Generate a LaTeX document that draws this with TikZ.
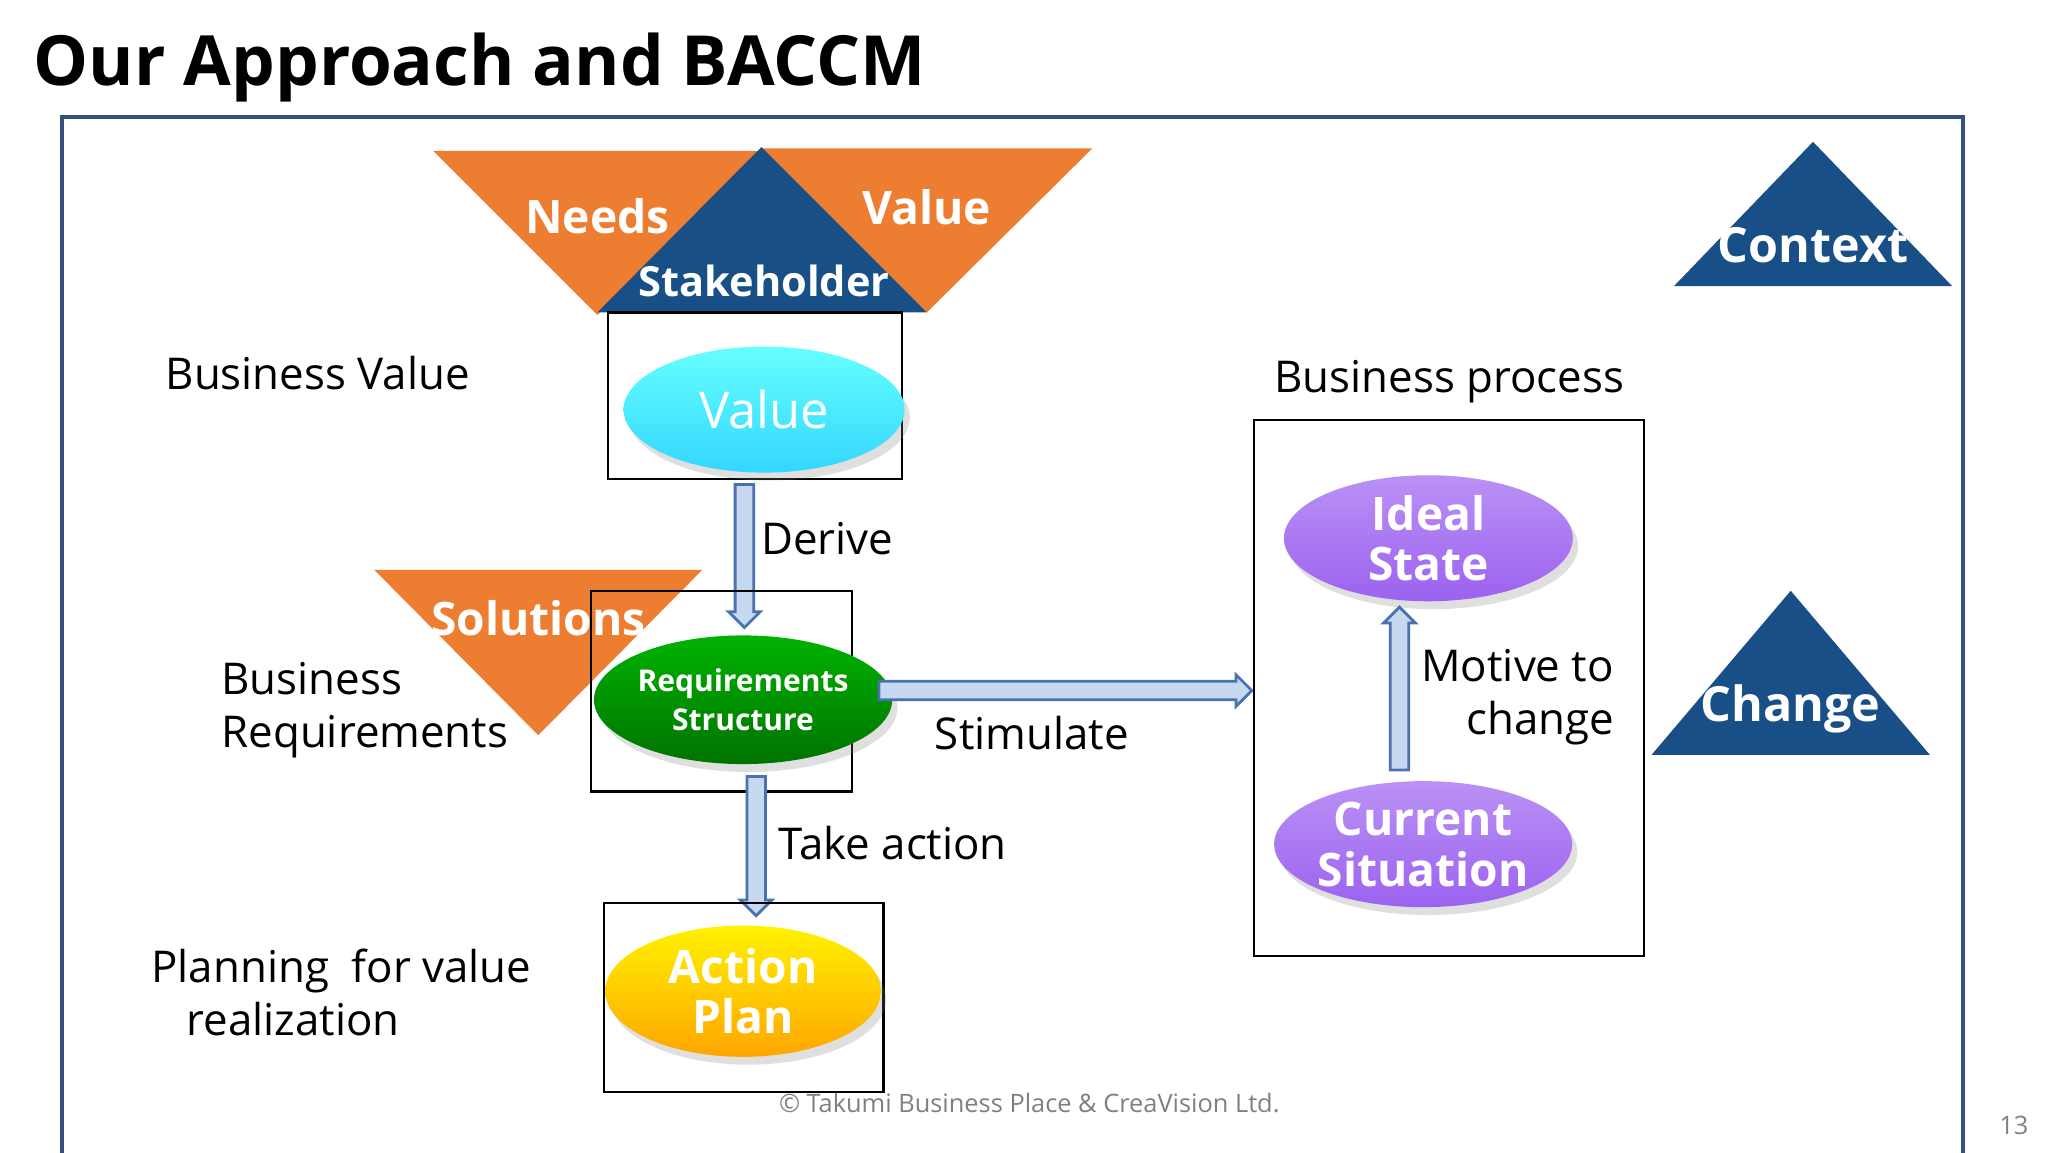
\documentclass[tikz,border=0pt]{standalone}
\usepackage{fontspec}
\setmainfont{Open Sans}
\usetikzlibrary{shapes.geometric,shapes.arrows,shadows}
\definecolor{tri orange}{HTML}{ED7D31}
\definecolor{tri blue}{HTML}{174F86}
\definecolor{arrow fill}{HTML}{C6D9F1}
\definecolor{arrow line}{HTML}{4A72B0}
\definecolor{blob violet}{HTML}{9C62F0}
\tikzstyle{box}=[draw=black,line width=0.5pt]
\tikzstyle{blob}=[ellipse,inner sep=0pt,text=white,font=\bfseries\fontsize{10}{11}\selectfont,align=center,drop shadow={opacity=0.25,shadow xshift=0.04cm,shadow yshift=-0.06cm}]
\tikzstyle{fat}=[single arrow,draw=arrow line,fill=arrow fill,line width=0.6pt,inner xsep=0pt,inner ysep=0.06cm,single arrow head extend=0.05cm,single arrow head indent=0pt]
\tikzstyle{lbl}=[font=\fontsize{9.5}{11.5}\selectfont,inner sep=0pt]
\tikzstyle{tritext}=[text=white,font=\bfseries\fontsize{10}{11}\selectfont,inner sep=0pt]
\begin{document}
\begin{tikzpicture}
\useasboundingbox (0,0) rectangle (15.6,-8.775);
% title and frame
\node[anchor=base west,font=\bfseries\fontsize{15}{18}\selectfont,inner sep=0pt] (title) at (0.25,-0.65) {Our Approach and BACCM};
\draw[draw=arrow line!70!black,line width=0.8pt] (0.47,-0.89) rectangle (14.95,-8.81);

% triangles at the top
\fill[tri orange] (3.30,-1.15) -- (5.80,-1.15) -- (4.55,-2.40) -- cycle;
\fill[tri orange] (5.80,-1.13) -- (8.32,-1.13) -- (7.06,-2.38) -- cycle;
\fill[tri blue] (5.80,-1.12) -- (7.06,-2.38) -- (4.55,-2.38) -- cycle;
\node[tritext] (needs) at (4.55,-1.65) {Needs};
\node[tritext] (valuet) at (7.06,-1.58) {Value};
\node[tritext,font=\bfseries\fontsize{9}{11}\selectfont] (stake) at (5.82,-2.14) {Stakeholder};

% business value
\draw[box] (4.63,-2.38) rectangle (6.87,-3.65);
\node[blob,minimum width=2.14cm,minimum height=0.96cm,top color=cyan!60!white,bottom color=cyan!80!blue!80,font=\fontsize{11}{12}\selectfont] (value) at (5.82,-3.12) {Value};
\node[lbl] (bv) at (2.42,-2.84) {Business Value};

% derive
\node[fat,minimum height=1.09cm,rotate=-90] (derive) at (5.67,-4.20) {};
\node[lbl] (derivet) at (6.30,-4.10) {Derive};

% requirements
\fill[tri orange] (2.85,-4.34) -- (5.35,-4.34) -- (4.10,-5.60) -- cycle;
\node[tritext] (sol) at (4.10,-4.71) {Solutions};
\draw[box] (4.50,-4.50) rectangle (6.49,-6.03);
\node[blob,minimum width=1.90cm,minimum height=0.98cm,top color=green!70!black,bottom color=green!45!black,font=\bfseries\fontsize{6.5}{8.5}\selectfont] (req) at (5.66,-5.33) {Requirements\\Structure};
\node[lbl,anchor=west,align=left] (br) at (1.68,-5.41) {Business\\Requirements};

% stimulate
\node[fat,minimum height=2.84cm] (stim) at (8.08,-5.26) {};
\node[lbl] (stimt) at (7.86,-5.58) {Stimulate};

% take action
\node[fat,minimum height=1.06cm,rotate=-90] (take) at (5.76,-6.41) {};
\node[lbl] (taket) at (6.80,-6.42) {Take action};

% action plan
\draw[box] (4.60,-6.88) rectangle (6.73,-8.32);
\node[blob,minimum width=2.10cm,minimum height=1.00cm,top color=yellow!90!orange,bottom color=orange!70!yellow] (plan) at (5.66,-7.55) {Action\\Plan};
\node[lbl,align=center] (pv) at (2.60,-7.56) {Planning\ \ for value\\\hspace{-2.2em}realization};

% business process
\node[lbl] (bp) at (11.04,-2.91) {Business process};
\draw[box] (9.55,-3.20) rectangle (12.52,-7.28);
\node[blob,minimum width=2.20cm,minimum height=0.96cm,top color=blob violet!70!white,bottom color=blob violet] (ideal) at (10.88,-4.10) {Ideal\\State};
\node[blob,minimum width=2.04cm,minimum height=0.96cm,top color=blob violet!70!white,bottom color=blob violet] (cur) at (10.84,-6.43) {Current\\Situation};
\node[fat,minimum height=1.24cm,rotate=90] (motive) at (10.66,-5.28) {};
\node[lbl,align=right,anchor=east] (motivet) at (12.30,-5.31) {Motive to\\change};

% context and change
\fill[tri blue] (13.81,-1.08) -- (14.87,-2.18) -- (12.75,-2.18) -- cycle;
\node[tritext,font=\bfseries\fontsize{10.5}{12}\selectfont] (ctx) at (13.81,-1.87) {Context};
\fill[tri blue] (13.64,-4.50) -- (14.70,-5.75) -- (12.58,-5.75) -- cycle;
\node[tritext,font=\bfseries\fontsize{10.5}{12}\selectfont] (chg) at (13.64,-5.40) {Change};

% footer
\node[text=gray,font=\fontsize{5.5}{7}\selectfont] (copy) at (7.84,-8.40) {© Takumi Business Place \& CreaVision Ltd.};
\node[text=gray,font=\fontsize{5.5}{7}\selectfont] (page) at (15.34,-8.57) {13};
\end{tikzpicture}
\end{document}
